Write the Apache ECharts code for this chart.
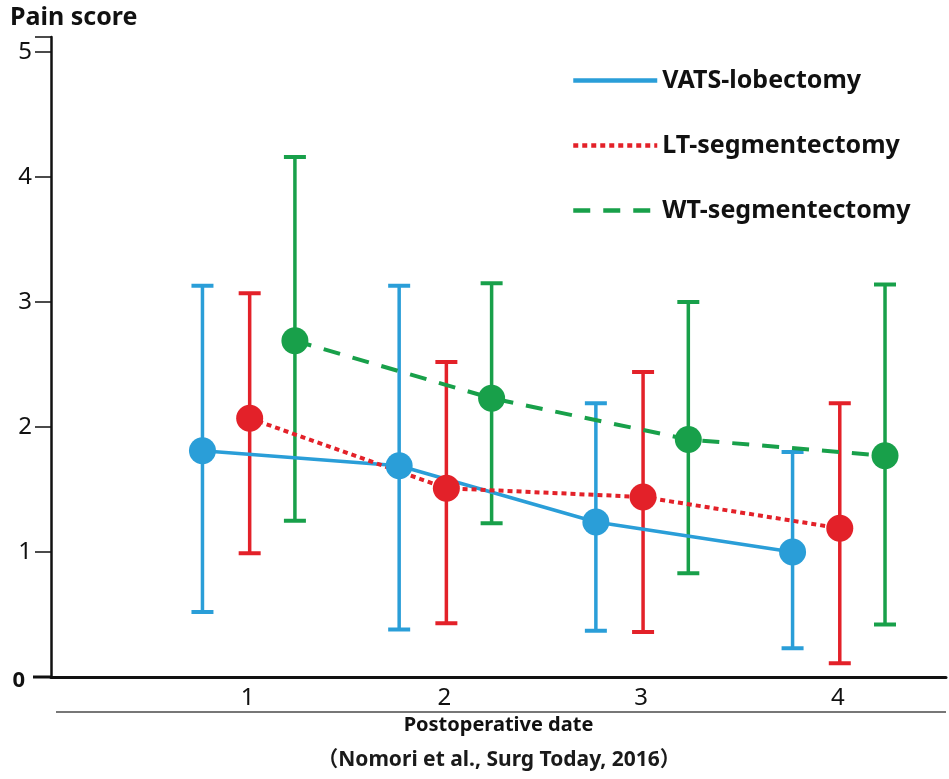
<!DOCTYPE html>
<html>
<head>
<meta charset="utf-8">
<script src="https://cdn.jsdelivr.net/npm/echarts@6/dist/echarts.min.js"></script>
<style>html,body{margin:0;padding:0;background:#fff;}#c{width:949px;height:779px;}</style>
</head>
<body>
<div id="c"></div>
<script>
// ---- data ----
var days = [1, 2, 3, 4];
var seriesNames = ['VATS-lobectomy', 'LT-segmentectomy', 'WT-segmentectomy'];
var vatsMean = [1.81, 1.69, 1.24, 1.00];
var vatsLow  = [0.52, 0.38, 0.37, 0.23];
var vatsHigh = [3.13, 3.13, 2.19, 1.80];
var ltMean = [2.07, 1.51, 1.44, 1.19];
var ltLow  = [0.99, 0.43, 0.36, 0.11];
var ltHigh = [3.07, 2.52, 2.44, 2.19];
var wtMean = [2.69, 2.23, 1.90, 1.77];
var wtLow  = [1.25, 1.23, 0.83, 0.42];
var wtHigh = [4.16, 3.15, 3.00, 3.14];
var yTicks = [0, 1, 2, 3, 4, 5];
var xLabels = ['1', '2', '3', '4'];
var caption = '（Nomori et al., Surg Today, 2016）';

// ---- styles ----
var offsets = [-0.23, 0.01, 0.24];
var colors = ['#2a9ed8', '#e32129', '#18a04a'];
var lineTypes = ['solid', [5, 4], [17, 13]];
var FONT = '"Noto Sans", "Noto Sans CJK JP", "Open Sans", sans-serif';

var groups = [
  {mean: vatsMean, low: vatsLow, high: vatsHigh},
  {mean: ltMean, low: ltLow, high: ltHigh},
  {mean: wtMean, low: wtLow, high: wtHigh}
];

var series = [];
groups.forEach(function (g, k) {
  var pts = days.map(function (d, i) { return [d + offsets[k], g.mean[i]]; });
  var bars = days.map(function (d, i) { return [d + offsets[k], g.low[i], g.high[i]]; });
  series.push({
    name: seriesNames[k] + '-err',
    type: 'custom',
    z: 1,
    data: bars,
    encode: {x: 0, y: [1, 2]},
    renderItem: (function (col) {
      return function (params, api) {
        var x = api.value(0);
        var lo = api.coord([x, api.value(1)]);
        var hi = api.coord([x, api.value(2)]);
        var w = 11;
        var st = {stroke: col, lineWidth: 3.5};
        return {
          type: 'group',
          children: [
            {type: 'line', shape: {x1: lo[0], y1: lo[1], x2: hi[0], y2: hi[1]}, style: st},
            {type: 'line', shape: {x1: hi[0] - w, y1: hi[1], x2: hi[0] + w, y2: hi[1]}, style: {stroke: col, lineWidth: 4}},
            {type: 'line', shape: {x1: lo[0] - w, y1: lo[1], x2: lo[0] + w, y2: lo[1]}, style: {stroke: col, lineWidth: 4}}
          ]
        };
      };
    })(colors[k])
  });
  series.push({
    name: seriesNames[k],
    type: 'line',
    z: 2,
    data: pts,
    symbol: 'none',
    lineStyle: {color: colors[k], width: k === 0 ? 3.5 : 4, type: lineTypes[k]},
    itemStyle: {color: colors[k]}
  });
  series.push({
    name: seriesNames[k] + '-pt',
    type: 'scatter',
    z: 3,
    data: pts,
    symbol: 'circle',
    symbolSize: 27,
    itemStyle: {color: colors[k], opacity: 1}
  });
});

var chart = echarts.init(document.getElementById('c'));
chart.setOption({
  animation: false,
  backgroundColor: '#fff',
  title: {
    text: 'Pain score', left: 5, top: 0,
    textStyle: {fontFamily: FONT, fontSize: 25, fontWeight: 'bold', color: '#111'}
  },
  legend: {
    data: seriesNames,
    orient: 'vertical',
    left: 566, top: 63,
    itemWidth: 84, itemHeight: 14, itemGap: 40,
    itemStyle: {opacity: 0},
    lineStyle: {width: 4.5},
    textStyle: {fontFamily: FONT, fontSize: 25, fontWeight: 'bold', color: '#111', padding: [0, 0, 0, 0]},
    selectedMode: false
  },
  grid: {left: 51, right: 3, top: 37, bottom: 102, containLabel: false},
  xAxis: {
    type: 'value', min: 0, max: 4.55, interval: 1,
    splitLine: {show: false},
    axisLine: {lineStyle: {color: '#111', width: 3}},
    axisTick: {show: false},
    axisLabel: {
      margin: 9, fontFamily: FONT, fontSize: 24, color: '#111',
      formatter: function (v) { return (v >= 1 && v <= 4 && Math.abs(v - Math.round(v)) < 1e-6) ? xLabels[Math.round(v) - 1] : ''; }
    },
    name: 'Postoperative date', nameLocation: 'middle', nameGap: 38,
    nameTextStyle: {fontFamily: FONT, fontSize: 20, fontWeight: 'bold', color: '#111'}
  },
  yAxis: {
    type: 'value', min: 0, max: 5.12, interval: 1,
    splitLine: {show: false},
    axisLine: {lineStyle: {color: '#111', width: 2.5}},
    axisTick: {length: 16, lineStyle: {color: '#111', width: 1.5}},
    axisLabel: {
      margin: 19, fontFamily: FONT, fontSize: 24, color: '#111',
      formatter: function (v) {
        var r = Math.round(v);
        if (Math.abs(v - r) > 1e-6 || yTicks.indexOf(r) < 0) return '';
        return r === 0 ? '{z|0}' : String(r);
      },
      rich: {z: {fontFamily: FONT, fontSize: 22, fontWeight: 'bold', color: '#111', padding: [8, 7, 0, 0]}}
    }
  },
  graphic: [
    {type: 'line', shape: {x1: 33, y1: 677, x2: 52, y2: 677}, style: {stroke: '#111', lineWidth: 3}},
    {type: 'line', shape: {x1: 56, y1: 712, x2: 946, y2: 712}, style: {stroke: '#777', lineWidth: 2}},
    {type: 'text', x: 499, y: 760, style: {text: caption, fontFamily: FONT, fontSize: 21, fontWeight: 'bold', fill: '#1a1a1a', textAlign: 'center', textVerticalAlign: 'middle'}}
  ],
  series: series
});
</script>
</body>
</html>
